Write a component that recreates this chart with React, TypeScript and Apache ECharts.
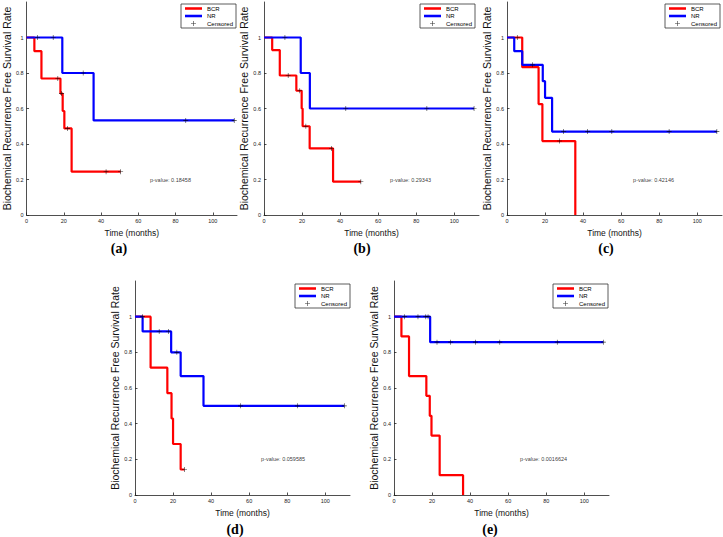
import React, { useEffect, useRef } from 'react';
import * as echarts from 'echarts';

const panelLabels = ['(a)', '(b)', '(c)', '(d)', '(e)'];
const pValues = ['0.18458', '0.29343', '0.42146', '0.059585', '0.0016624'];
const pValueAnchor = [66, 0.2];
const xTicks = [0, 20, 40, 60, 80, 100];
const yTicks = [0, 0.2, 0.4, 0.6, 0.8, 1];
const seriesNames = ['BCR', 'NR', 'Censored'];

// Kaplan-Meier step points [time, survival] : value holds until next time
const bcrA = [[0, 1], [4.2, 0.923], [8, 0.769], [18.2, 0.684], [19.4, 0.586], [20.3, 0.488], [24.2, 0.244], [50.5, 0.244]];
const nrA = [[0, 1], [19.2, 0.8], [36, 0.533], [111.5, 0.533]];
const censA = [[16.8, 0.769], [18.8, 0.684], [22, 0.488], [42.7, 0.244], [50.5, 0.244], [5.9, 1], [14.3, 1], [30.4, 0.8], [85.5, 0.533], [111.5, 0.533]];

const bcrB = [[0, 1], [4.3, 0.929], [8.3, 0.786], [17, 0.7], [19.8, 0.6], [20.3, 0.5], [24, 0.375], [36.3, 0.1875], [50.9, 0.1875]];
const nrB = [[0, 1], [19.3, 0.8], [24.1, 0.6], [110.4, 0.6]];
const censB = [[12.7, 0.786], [18.8, 0.7], [22, 0.5], [35.5, 0.375], [50.9, 0.1875], [11, 1], [43, 0.6], [85.6, 0.6], [110.4, 0.6]];

const bcrC = [[0, 1], [8, 0.833], [16.6, 0.625], [18.6, 0.4167], [35.9, 0]];
const nrC = [[0, 1], [3.8, 0.923], [8, 0.846], [18.8, 0.754], [20, 0.66], [23.7, 0.47], [110.3, 0.47]];
const censC = [[5.4, 1], [27.6, 0.4167], [13.5, 0.846], [29.8, 0.47], [42.4, 0.47], [55.1, 0.47], [85.2, 0.47], [110.3, 0.47]];

const bcrD = [[0, 1], [8.2, 0.714], [17, 0.571], [19.2, 0.429], [20, 0.286], [24, 0.143], [26, 0.143]];
const nrD = [[0, 1], [4, 0.917], [19, 0.8], [24, 0.667], [36, 0.5], [110, 0.5]];
const censD = [[26, 0.143], [3.9, 1], [12.7, 0.917], [17.5, 0.917], [22, 0.8], [55.5, 0.5], [85.3, 0.5], [110, 0.5]];

const bcrE = [[0, 1], [3.9, 0.889], [7.9, 0.667], [17, 0.556], [18.8, 0.444], [19.7, 0.333], [24, 0.111], [36.3, 0]];
const nrE = [[0, 1], [19, 0.857], [110, 0.857]];
const censE = [[5.6, 1], [12.6, 1], [16.7, 1], [17.9, 1], [22.6, 0.857], [29.8, 0.857], [42.8, 0.857], [55.6, 0.857], [85.8, 0.857], [110, 0.857]];

const bcrCurves = [bcrA, bcrB, bcrC, bcrD, bcrE];
const nrCurves = [nrA, nrB, nrC, nrD, nrE];
const censoredPoints = [censA, censB, censC, censD, censE];

const FONT = 'Liberation Sans';
const LINE_ICON = 'path://M0,0H20V3H0Z';
const PLUS_ICON = 'path://M4.4,0H5.6V4.4H10V5.6H5.6V10H4.4V5.6H0V4.4H4.4Z';

const gridBoxes = [
  { left: 22, top: 2, width: 215, height: 213 },
  { left: 264, top: 2, width: 215, height: 213 },
  { left: 507, top: 2, width: 215, height: 213 },
  { left: 135, top: 281, width: 215, height: 214 },
  { left: 394, top: 281, width: 215, height: 214 },
];
const legendBoxes = [[181, 4], [420, 4], [665, 4], [295, 284], [553, 284]];
const captionSpots = [[119, 248], [362, 248], [606, 248], [235, 529], [490, 529]];

function buildOption() {
  const grid: any[] = [];
  const xAxis: any[] = [];
  const yAxis: any[] = [];
  const legend: any[] = [];
  const series: any[] = [];
  const graphic: any[] = [];

  for (let i = 0; i < 5; i++) {
    grid.push({ ...gridBoxes[i], containLabel: false });
    xAxis.push({
      type: 'value', gridIndex: i, min: 0, max: 113,
      axisLine: { show: true, lineStyle: { color: '#222', width: 0.8 } },
      axisTick: { show: true, inside: true, length: 2.5, customValues: xTicks, lineStyle: { color: '#222', width: 0.8 } },
      axisLabel: { customValues: xTicks, fontSize: 5.5, margin: 3, color: '#222', fontFamily: FONT },
      splitLine: { show: false },
      name: 'Time (months)', nameLocation: 'middle', nameGap: 13.5,
      nameTextStyle: { fontSize: 8.5, color: '#111', fontFamily: FONT, fontWeight: 'normal' },
    });
    yAxis.push({
      type: 'value', gridIndex: i, min: 0, max: 1.2,
      axisLine: { show: true, lineStyle: { color: '#222', width: 0.8 } },
      axisTick: { show: true, inside: true, length: 2.5, customValues: yTicks, lineStyle: { color: '#222', width: 0.8 } },
      axisLabel: { customValues: yTicks, fontSize: 5.5, margin: 3, color: '#222', fontFamily: FONT },
      splitLine: { show: false },
      name: 'Biochemical Recurrence Free Survival Rate', nameLocation: 'middle', nameGap: 11,
      nameTextStyle: { fontSize: 10.5, color: '#111', fontFamily: FONT, fontWeight: 'normal' },
    });
    legend.push({
      left: legendBoxes[i][0], top: legendBoxes[i][1], orient: 'vertical',
      data: [
        { name: seriesNames[0], icon: LINE_ICON },
        { name: seriesNames[1], icon: LINE_ICON },
        { name: seriesNames[2], icon: PLUS_ICON },
      ],
      itemWidth: 17, itemHeight: 5, itemGap: 1.5, padding: [1.5, 3, 1.5, 4],
      borderColor: '#333', borderWidth: 0.8, backgroundColor: '#fff',
      textStyle: { fontSize: 6, color: '#000', fontFamily: FONT },
      selectedMode: false,
    });
    series.push({
      type: 'line', name: seriesNames[0], xAxisIndex: i, yAxisIndex: i, step: 'end',
      data: bcrCurves[i], showSymbol: false, symbol: 'none',
      lineStyle: { color: '#ff0000', width: 2.2 }, itemStyle: { color: '#ff0000' }, z: 2,
    });
    series.push({
      type: 'line', name: seriesNames[1], xAxisIndex: i, yAxisIndex: i, step: 'end',
      data: nrCurves[i], showSymbol: false, symbol: 'none',
      lineStyle: { color: '#0000ff', width: 2.2 }, itemStyle: { color: '#0000ff' }, z: 3,
    });
    series.push({
      type: 'scatter', name: seriesNames[2], xAxisIndex: i, yAxisIndex: i,
      data: censoredPoints[i], symbol: PLUS_ICON, symbolSize: 5,
      itemStyle: { color: '#000' }, z: 4,
    });
    series.push({
      type: 'scatter', name: 'pvalue' + i, xAxisIndex: i, yAxisIndex: i, silent: true,
      data: [pValueAnchor], symbolSize: 1, itemStyle: { color: 'rgba(0,0,0,0)' },
      label: {
        show: true, position: 'right', distance: 0,
        formatter: 'p-value: ' + pValues[i],
        fontSize: 5.5, color: '#000', fontFamily: FONT,
      },
      z: 5,
    });
    graphic.push({
      type: 'text', x: captionSpots[i][0], y: captionSpots[i][1],
      style: {
        text: panelLabels[i], fill: '#000',
        fontSize: 14, fontWeight: 'bold', fontFamily: 'Liberation Serif',
        textAlign: 'center', textVerticalAlign: 'middle', align: 'center', verticalAlign: 'middle',
      },
    });
  }

  return { animation: false, backgroundColor: '#fff', grid, xAxis, yAxis, legend, series, graphic };
}

export default function App() {
  const ref = useRef<HTMLDivElement>(null);
  useEffect(() => {
    if (!ref.current) return;
    const chart = echarts.init(ref.current, undefined, { renderer: 'svg' });
    chart.setOption(buildOption() as any);
    return () => chart.dispose();
  }, []);
  return (
    <div
      ref={ref}
      style={{ position: 'fixed', left: 0, top: 0, width: 723, height: 537, background: '#fff' }}
    />
  );
}
